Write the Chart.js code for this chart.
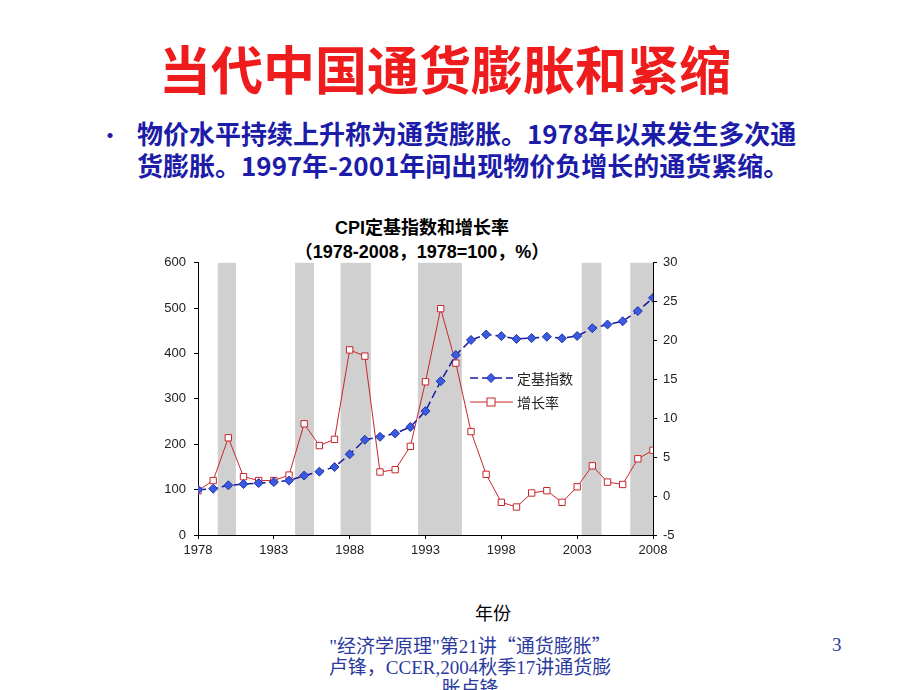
<!DOCTYPE html>
<html>
<head>
<meta charset="utf-8">
<script src="https://cdn.jsdelivr.net/npm/chart.js@4.4.1/dist/chart.umd.min.js"></script>
<style>
    body { margin: 0; width: 920px; height: 690px; background: #fff; position: relative; overflow: hidden; font-family: "Noto Sans CJK SC", sans-serif; }
    #title { position: absolute; left: 0; width: 890px; top: 37px; text-align: center; color: #ee1c1c; font-size: 52px; font-weight: bold; line-height: 62px; }
    #bullet { position: absolute; left: 100px; top: 117px; color: #1c1ca8; font-size: 26px; font-weight: bold; line-height: 32px; }
    #bullet .dot { position: absolute; left: 0; top: 2px; font-size: 20px; }
    #bullet .txt { margin-left: 37px; }
    #charttitle { position: absolute; left: 222px; width: 400px; top: 216px; text-align: center; font-family: "Liberation Sans", "Noto Sans CJK SC", sans-serif; font-size: 18px; font-weight: bold; line-height: 24px; color: #000; }
    #xlabel { position: absolute; left: 443px; width: 100px; top: 599px; text-align: center; font-size: 18px; color: #000; }
    #footer { position: absolute; left: 300px; width: 340px; top: 634px; text-align: center; font-family: "Liberation Serif", "Noto Sans CJK SC", serif; font-size: 19px; line-height: 21px; color: #2b3a9e; }
    #footer .q { font-family: "Noto Sans CJK SC", sans-serif; }
    #page { position: absolute; left: 832px; top: 634px; font-family: "Liberation Serif", serif; font-size: 19px; line-height: 21px; color: #2b3a9e; }
    #wrap { position: absolute; left: 140px; top: 247px; width: 560px; height: 318px; }
</style>
</head>
<body>
<div id="title">当代中国通货膨胀和紧缩</div>
<div id="bullet"><span class="dot">•</span><div class="txt">物价水平持续上升称为通货膨胀。1978年以来发生多次通<br>货膨胀。1997年-2001年间出现物价负增长的通货紧缩。</div></div>
<div id="charttitle">CPI定基指数和增长率<br>（1978-2008，1978=100，%）</div>
<div id="wrap"><canvas id="cpiChart"></canvas></div>
<div id="xlabel">年份</div>
<div id="footer">"经济学原理"第21讲<span class="q">“</span>通货膨胀<span class="q">”</span><br>卢锋，CCER,2004秋季17讲通货膨<br>胀卢锋</div>
<div id="page">3</div>

<script>
// 数据
const years = [1978, 1979, 1980, 1981, 1982, 1983, 1984, 1985, 1986, 1987, 1988, 1989, 1990, 1991, 1992, 1993, 1994, 1995, 1996, 1997, 1998, 1999, 2000, 2001, 2002, 2003, 2004, 2005, 2006, 2007, 2008];
const cpiIndex = [100, 101.9, 109.5, 112.2, 114.4, 116.7, 119.9, 131.1, 139.6, 149.8, 177.9, 209.9, 216.4, 223.8, 238.1, 273.1, 339.0, 396.9, 429.9, 441.9, 438.4, 432.2, 434.0, 437.0, 433.5, 438.7, 455.8, 464.0, 471.0, 493.6, 522.7];
const growthRate = [0.7, 2.0, 7.5, 2.5, 2.0, 2.0, 2.7, 9.3, 6.5, 7.3, 18.8, 18.0, 3.1, 3.4, 6.4, 14.7, 24.1, 17.1, 8.3, 2.8, -0.8, -1.4, 0.4, 0.7, -0.8, 1.2, 3.9, 1.8, 1.5, 4.8, 5.9];
// 阴影区间
const bandStarts = [1979.3, 1984.4, 1987.4, 1992.5, 2003.3, 2006.5];
const bandEnds = [1980.5, 1985.65, 1989.4, 1995.4, 2004.6, 2008];
const leftTicks = [0, 100, 200, 300, 400, 500, 600];
const rightTicks = [-5, 0, 5, 10, 15, 20, 25, 30];
const xTicks = [1978, 1983, 1988, 1993, 1998, 2003, 2008];

const tickFont = { family: "Liberation Sans, Arial, sans-serif", size: 13 };

// 灰色阴影
const bandPlugin = {
    id: "bands",
    beforeDatasetsDraw(chart) {
        const ctx = chart.ctx;
        const x = chart.scales.x;
        const area = chart.chartArea;
        ctx.save();
        ctx.fillStyle = "#d0d0d0";
        bandStarts.forEach((s, i) => {
            const x1 = x.getPixelForValue(s);
            const x2 = x.getPixelForValue(bandEnds[i]);
            ctx.fillRect(x1, area.top, x2 - x1, area.bottom - area.top);
        });
        ctx.restore();
    }
};

// 图例
const legendPlugin = {
    id: "innerLegend",
    afterDraw(chart) {
        const ctx = chart.ctx;
        const lx = 330, ly1 = 131, ly2 = 155;
        ctx.save();
        ctx.lineWidth = 1.5;
        ctx.strokeStyle = "#1a1aa0";
        ctx.setLineDash([8, 4]);
        ctx.beginPath(); ctx.moveTo(lx, ly1); ctx.lineTo(lx + 43, ly1); ctx.stroke();
        ctx.setLineDash([]);
        ctx.fillStyle = "#3a5ae0"; ctx.strokeStyle = "#2233aa"; ctx.lineWidth = 1;
        ctx.beginPath();
        ctx.moveTo(lx + 21, ly1 - 4.5); ctx.lineTo(lx + 25.5, ly1); ctx.lineTo(lx + 21, ly1 + 4.5); ctx.lineTo(lx + 16.5, ly1);
        ctx.closePath(); ctx.fill(); ctx.stroke();
        ctx.strokeStyle = "#c8262b"; ctx.lineWidth = 1;
        ctx.beginPath(); ctx.moveTo(lx, ly2); ctx.lineTo(lx + 43, ly2); ctx.stroke();
        ctx.fillStyle = "#fff";
        ctx.fillRect(lx + 17, ly2 - 4, 8, 8); ctx.strokeRect(lx + 17, ly2 - 4, 8, 8);
        ctx.fillStyle = "#222";
        ctx.font = "14px 'Noto Sans CJK SC', sans-serif";
        ctx.textBaseline = "middle";
        ctx.fillText("定基指数", lx + 47, ly1 + 1);
        ctx.fillText("增长率", lx + 47, ly2 + 1);
        ctx.restore();
    }
};

new Chart(document.getElementById("cpiChart").getContext("2d"), {
    type: "line",
    data: {
        labels: years,
        datasets: [{
            label: "定基指数",
            data: years.map((y, i) => ({ x: y, y: cpiIndex[i] })),
            yAxisID: "y",
            borderColor: "#1a1aa0",
            borderWidth: 1.5,
            borderDash: [8, 4],
            pointStyle: "rectRot",
            pointRadius: 4.5,
            pointBackgroundColor: "#3a5ae0",
            pointBorderColor: "#2233aa",
            pointBorderWidth: 1,
            order: 1
        }, {
            label: "增长率",
            data: years.map((y, i) => ({ x: y, y: growthRate[i] })),
            yAxisID: "y1",
            borderColor: "#c8262b",
            borderWidth: 1,
            pointStyle: "rect",
            pointRadius: 4.5,
            pointBackgroundColor: "#fff",
            pointBorderColor: "#c8262b",
            pointBorderWidth: 1,
            order: 2
        }]
    },
    options: {
        responsive: true,
        maintainAspectRatio: false,
        animation: false,
        layout: { padding: { top: 7, left: 0, right: 0, bottom: 0 } },
        plugins: { legend: { display: false }, title: { display: false }, tooltip: { enabled: false } },
        scales: {
            x: {
                type: "linear",
                min: 1978, max: 2008,
                afterBuildTicks: (s) => { s.ticks = xTicks.map(v => ({ value: v })); },
                afterFit: (s) => { s.height = 30; },
                grid: { display: true, drawOnChartArea: false, color: "#000", tickLength: 4 },
                border: { color: "#000" },
                ticks: { color: "#222", font: tickFont, maxRotation: 0, padding: 4, callback: v => String(v) }
            },
            y: {
                position: "left",
                min: 0, max: 600,
                afterBuildTicks: (s) => { s.ticks = leftTicks.map(v => ({ value: v })); },
                afterFit: (s) => { s.width = 58; },
                grid: { display: true, drawOnChartArea: false, color: "#000", tickLength: 4 },
                border: { color: "#000" },
                ticks: { color: "#222", font: tickFont, padding: 8 }
            },
            y1: {
                position: "right",
                min: -5, max: 30,
                afterBuildTicks: (s) => { s.ticks = rightTicks.map(v => ({ value: v })); },
                afterFit: (s) => { s.width = 47; },
                grid: { display: true, drawOnChartArea: false, color: "#000", tickLength: 4 },
                border: { color: "#000" },
                ticks: { color: "#222", font: tickFont, padding: 6 }
            }
        }
    },
    plugins: [bandPlugin, legendPlugin]
});
</script>
</body>
</html>
